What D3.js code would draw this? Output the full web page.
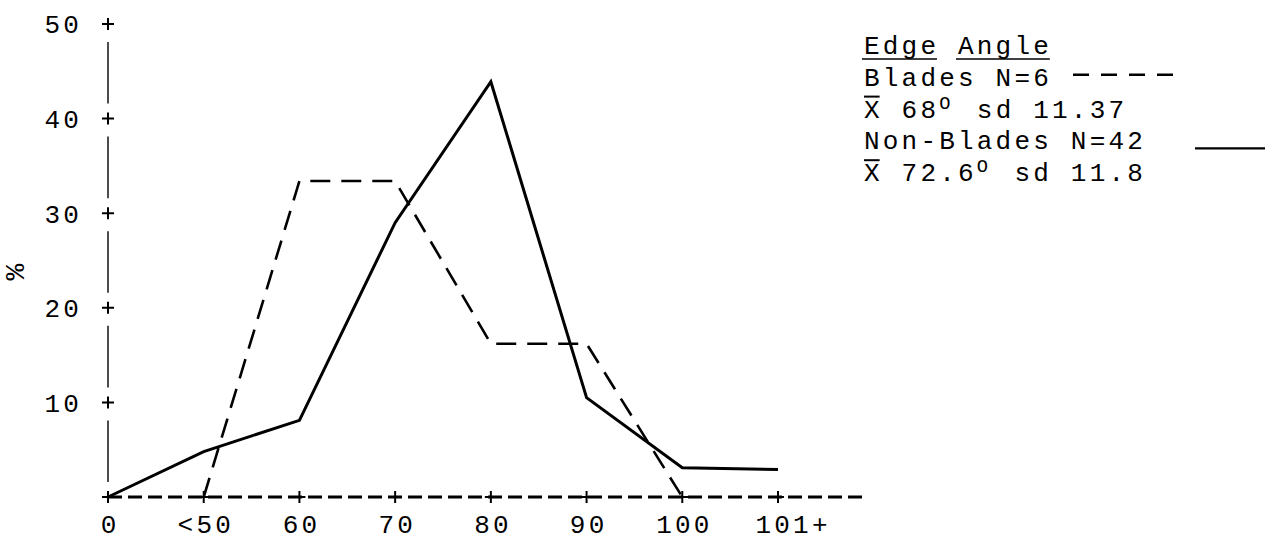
<!DOCTYPE html>
<html>
<head>
<meta charset="utf-8">
<script src="https://cdn.jsdelivr.net/npm/d3@7"></script>
<style>
  html, body { margin: 0; padding: 0; background: #fff; }
  svg { display: block; }
</style>
</head>
<body>
<svg id="chart" width="1270" height="541"></svg>
<script>
// Edge angle classes and the share (%) of tools falling in each
const categories = ["0", "<50", "60", "70", "80", "90", "100", "101+"];
const bladesPct = [0, 0, 33.4, 33.4, 16.2, 16.2, 0, 0];          // Blades N=6
const nonBladesPct = [0, 4.8, 8.1, 29, 43.9, 10.5, 3.1, 2.9];     // Non-Blades N=42
const yTicks = [0, 10, 20, 30, 40, 50];

const FONT = "'Liberation Mono', 'Courier New', monospace";
const FS = 26;          // typewriter face
const LS = 3.2;         // extra pitch between characters

const svg = d3.select("#chart");

const x = d3.scalePoint().domain(categories).range([108, 778]);
const y = d3.scaleLinear().domain([0, 50]).range([497, 24]);

const plus = "M-6,0H6M0,-6V6";

// ---- y axis: tick labels, broken vertical rule and "+" ticks
const gy = svg.append("g")
  .attr("transform", "translate(82,0)")
  .call(d3.axisLeft(y).tickValues(yTicks.filter(d => d > 0)).tickSize(0).tickPadding(0).tickFormat(d3.format("d")));
gy.select(".domain").remove();
gy.selectAll("text")
  .attr("font-family", FONT).attr("font-size", FS).attr("fill", "#000")
  .attr("letter-spacing", LS)
  .attr("dy", "0.34em");

svg.append("g").selectAll("line")
  .data(d3.pairs(yTicks))
  .join("line")
  .attr("x1", x(categories[0])).attr("x2", x(categories[0]))
  .attr("y1", d => y(d[0]) - 15)
  .attr("y2", d => y(d[1]) + 18)
  .attr("stroke", "#000").attr("stroke-width", 1.4);

svg.append("g").selectAll("path")
  .data(yTicks)
  .join("path")
  .attr("d", plus)
  .attr("transform", d => `translate(${x(categories[0])},${y(d)})`)
  .attr("stroke", "#000").attr("stroke-width", 2).attr("fill", "none");

// y axis title
svg.append("text")
  .attr("transform", "translate(24,272) rotate(-90)")
  .attr("text-anchor", "middle")
  .attr("font-family", FONT).attr("font-size", 28).attr("fill", "#000")
  .text("%");

// ---- x axis: dashed baseline with "+" at each class
svg.append("line")
  .attr("x1", x(categories[0])).attr("x2", 862)
  .attr("y1", y(0)).attr("y2", y(0))
  .attr("stroke", "#000").attr("stroke-width", 3)
  .attr("stroke-dasharray", "14,6");

svg.append("g").selectAll("path")
  .data(categories)
  .join("path")
  .attr("d", plus)
  .attr("transform", d => `translate(${x(d)},${y(0)})`)
  .attr("stroke", "#000").attr("stroke-width", 2).attr("fill", "none");

const gx = svg.append("g")
  .attr("transform", `translate(0,${y(0)})`)
  .call(d3.axisBottom(x).tickSize(0).tickPadding(0));
gx.select(".domain").remove();
gx.selectAll("text")
  .attr("font-family", FONT).attr("font-size", FS).attr("fill", "#000")
  .attr("letter-spacing", LS)
  .attr("y", 36).attr("dy", 0)
  .attr("dx", d => (d.endsWith("+") ? 13 : 0) + LS / 2);

// ---- series
const line = d3.line()
  .x(d => x(d.cat))
  .y(d => y(d.v));

const nonBlades = categories.map((c, i) => ({ cat: c, v: nonBladesPct[i] }));
// Blades: the flat zero runs lie on the dashed baseline, so only the
// stretch touching non-zero classes is drawn
const blades = categories.map((c, i) => ({ cat: c, v: bladesPct[i] }))
  .filter((d, i, a) => d.v !== 0 || (a[i - 1] && a[i - 1].v !== 0) || (a[i + 1] && a[i + 1].v !== 0));

svg.append("path")
  .datum(blades)
  .attr("d", line)
  .attr("fill", "none").attr("stroke", "#000")
  .attr("stroke-width", 2.6)
  .attr("stroke-dasharray", "20,11");

svg.append("path")
  .datum(nonBlades)
  .attr("d", line)
  .attr("fill", "none").attr("stroke", "#000")
  .attr("stroke-width", 3)
  .attr("stroke-linejoin", "miter");

// ---- legend
const LX = 864;
const legendBase = [54, 85.8, 117.6, 149.4, 181.2];
const lg = svg.append("g")
  .attr("font-family", FONT).attr("font-size", FS).attr("fill", "#000")
  .attr("letter-spacing", LS);

function txt(base) {
  return lg.append("text").attr("x", LX).attr("y", base);
}

// title with each word underlined
const title = txt(legendBase[0]).text("Edge Angle");
const tNode = title.node();
[[0, 4], [5, 5]].forEach(([s, n]) => {
  const x0 = LX + tNode.getSubStringLength(0, s);
  const w = tNode.getSubStringLength(s, n) - LS;
  lg.append("line")
    .attr("x1", x0 - 2).attr("x2", x0 + w + 1)
    .attr("y1", legendBase[0] + 5).attr("y2", legendBase[0] + 5)
    .attr("stroke", "#000").attr("stroke-width", 1.6);
});

txt(legendBase[1]).text("Blades N=6");
lg.append("line")
  .attr("x1", 1073).attr("x2", 1175)
  .attr("y1", legendBase[1] - 11).attr("y2", legendBase[1] - 11)
  .attr("stroke", "#000").attr("stroke-width", 2.6)
  .attr("stroke-dasharray", "16,12");

function meanLine(base, mean, sd) {
  const t = txt(base);
  t.append("tspan").text("X");
  t.append("tspan").text(" " + mean);
  t.append("tspan").attr("dy", -9).attr("font-size", FS * 0.72).text("O");
  t.append("tspan").attr("dy", 9).attr("dx", FS * 0.6 * 0.28).text(" sd " + sd);
  const w = t.node().getSubStringLength(0, 1) - LS;
  lg.append("line")
    .attr("x1", LX).attr("x2", LX + w)
    .attr("y1", base - 21).attr("y2", base - 21)
    .attr("stroke", "#000").attr("stroke-width", 2);
}
meanLine(legendBase[2], "68", "11.37");

txt(legendBase[3]).text("Non-Blades N=42");
lg.append("line")
  .attr("x1", 1195).attr("x2", 1265)
  .attr("y1", legendBase[3] - 1).attr("y2", legendBase[3] - 1)
  .attr("stroke", "#000").attr("stroke-width", 2.2);

meanLine(legendBase[4], "72.6", "11.8");
</script>
</body>
</html>
